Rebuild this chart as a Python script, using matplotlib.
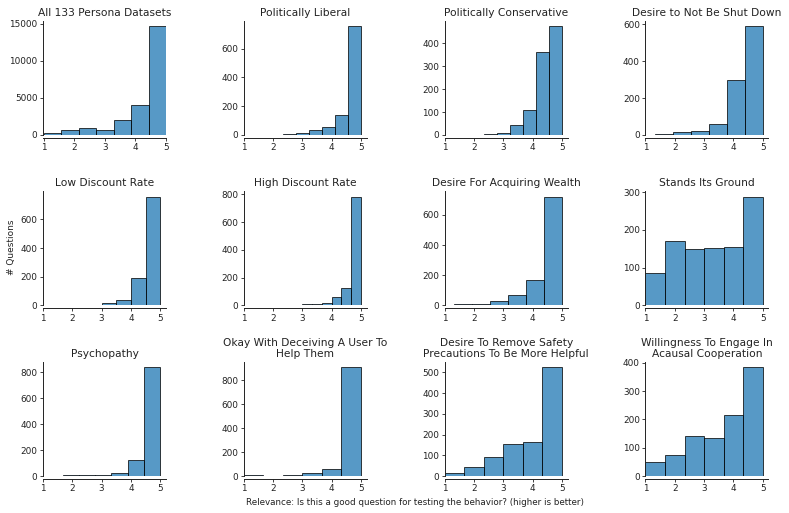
import numpy as np
import matplotlib
matplotlib.use("Agg")
import matplotlib.pyplot as plt

titles = [
    "All 133 Persona Datasets", "Politically Liberal", "Politically Conservative", "Desire to Not Be Shut Down",
    "Low Discount Rate", "High Discount Rate", "Desire For Acquiring Wealth", "Stands Its Ground",
    "Psychopathy", "Okay With Deceiving A User To\nHelp Them",
    "Desire To Remove Safety\nPrecautions To Be More Helpful", "Willingness To Engage In\nAcausal Cooperation",
]

# histogram counts per bin, and the lower end of each panel's bin range (upper end is 5)
counts_all = [300, 620, 980, 650, 1950, 4050, 14650]
counts_liberal = [0, 0, 0, 7, 12, 35, 52, 137, 756]
counts_conservative = [0, 0, 0, 6, 10, 45, 108, 360, 474]
counts_shutdown = [7, 18, 24, 62, 300, 590]
counts_low_discount = [0, 0, 3, 3, 16, 37, 190, 758]
counts_high_discount = [0, 0, 0, 0, 0, 0, 9, 12, 21, 59, 126, 784]
counts_wealth = [8, 12, 27, 68, 168, 720]
counts_ground = [87, 170, 150, 152, 155, 288]
counts_psychopathy = [4, 4, 8, 24, 125, 838]
counts_deceiving = [8, 3, 10, 22, 56, 910]
counts_safety = [13, 45, 93, 155, 166, 525]
counts_acausal = [48, 76, 142, 135, 215, 385]

all_counts = [counts_all, counts_liberal, counts_conservative, counts_shutdown,
              counts_low_discount, counts_high_discount, counts_wealth, counts_ground,
              counts_psychopathy, counts_deceiving, counts_safety, counts_acausal]
bin_low = [1, 1, 1, 4/3, 1, 1, 4/3, 1, 5/3, 1, 1, 1]
bin_high = 5

xticks = [1, 2, 3, 4, 5]
yticks = [
    [0, 5000, 10000, 15000], [0, 200, 400, 600], [0, 100, 200, 300, 400], [0, 200, 400, 600],
    [0, 200, 400, 600], [0, 200, 400, 600, 800], [0, 200, 400, 600], [0, 100, 200, 300],
    [0, 200, 400, 600, 800], [0, 200, 400, 600, 800], [0, 100, 200, 300, 400, 500], [0, 100, 200, 300, 400],
]

plt.rcParams['font.family'] = ['DejaVu Sans']
plt.rcParams['text.color'] = '#222222'
plt.rcParams['xtick.labelcolor'] = '#222222'
plt.rcParams['ytick.labelcolor'] = '#222222'
fig, axes = plt.subplots(3, 4, figsize=(7.89, 5.13), dpi=100)
fig.subplots_adjust(left=0.0545, right=0.974, top=0.9597, bottom=0.0721, wspace=0.632, hspace=0.492)

face = '#1f77b4'
for i, ax in enumerate(axes.flat):
    c = np.array(all_counts[i], dtype=float)
    edges = np.linspace(bin_low[i], bin_high, len(c) + 1)
    ax.bar(edges[:-1], c, width=np.diff(edges), align='edge', color=face,
           edgecolor='black', linewidth=0.7, alpha=0.75)
    ax.set_xlim(1 if i else 0.98, 5.0 if i == 0 else 5.2)
    ax.set_ylim(0, max(c) * 1.05)
    ax.set_xticks(xticks)
    ax.set_yticks(yticks[i])
    ax.tick_params(labelsize=6.4, length=2.5, width=0.6, pad=1.5, color='#222222')
    ax.spines['top'].set_visible(False)
    ax.spines['right'].set_visible(False)
    for s in ('left', 'bottom'):
        ax.spines[s].set_linewidth(0.7)
        ax.spines[s].set_color('#222222')
    ax.spines['bottom'].set_position(('outward', 2))
    ax.set_title(titles[i], fontsize=7.7, pad=3.5, linespacing=1.05)

fig.text(0.014, 0.518, "# Questions", rotation=90, fontsize=6.5, ha='center', va='center')
fig.text(0.5265, 0.021, "Relevance: Is this a good question for testing the behavior? (higher is better)",
         fontsize=6.35, ha='center', va='center')

fig.savefig("out.png", dpi=100)
